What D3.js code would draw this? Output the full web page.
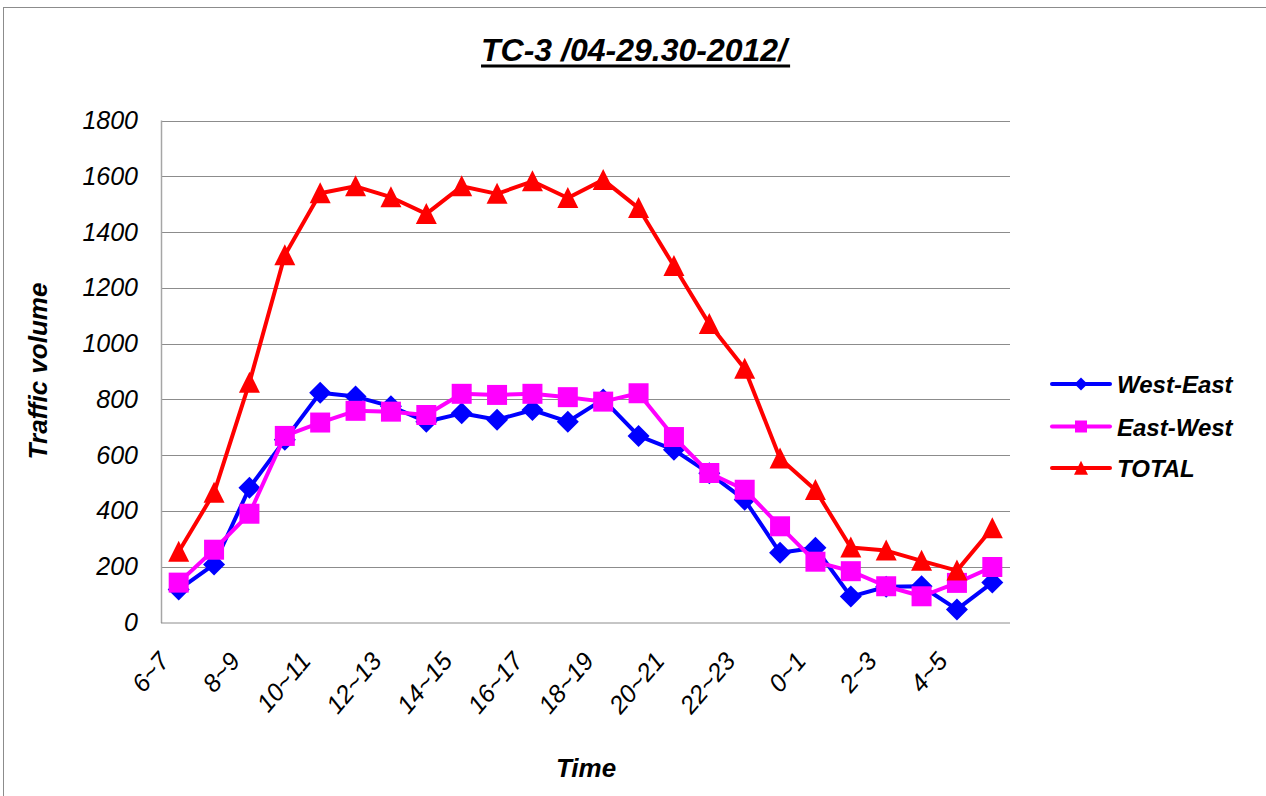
<!DOCTYPE html>
<html>
<head>
<meta charset="utf-8">
<script src="https://cdn.jsdelivr.net/npm/d3@7"></script>
<style>
  html, body { margin: 0; padding: 0; background: #fff; }
  svg { display: block; font-family: "Liberation Sans", Arial, sans-serif; }
</style>
</head>
<body>
<svg id="chart" width="1266" height="796"></svg>
<script>
const categories = ["6~7","7~8","8~9","9~10","10~11","11~12","12~13","13~14","14~15","15~16","16~17","17~18","18~19","19~20","20~21","21~22","22~23","23~0","0~1","1~2","2~3","3~4","4~5","5~6"];
const tickLabels = ["6~7","8~9","10~11","12~13","14~15","16~17","18~19","20~21","22~23","0~1","2~3","4~5"];
const westEast = [118, 208, 483, 655, 824, 810, 775, 720, 750, 727, 762, 720, 800, 669, 619, 535, 440, 250, 268, 93, 128, 130, 47, 143];
const eastWest = [143, 261, 390, 669, 717, 759, 756, 744, 820, 816, 820, 808, 792, 822, 665, 536, 476, 345, 218, 184, 130, 94, 142, 199];
const total = [254, 465, 860, 1317, 1539, 1564, 1525, 1465, 1564, 1537, 1582, 1522, 1587, 1486, 1278, 1070, 910, 588, 475, 269, 258, 221, 186, 338];
const yTicks = [0, 200, 400, 600, 800, 1000, 1200, 1400, 1600, 1800];
const seriesNames = ["West-East", "East-West", "TOTAL"];
const seriesColors = ["#0000ff", "#ff00ff", "#ff0000"];
const seriesShapes = ["diamond", "square", "triangle"];
const titleText = "TC-3 /04-29.30-2012/";
const yTitle = "Traffic volume";
const xTitle = "Time";

const svg = d3.select("#chart");
const plot = { left: 161, right: 1010, top: 120.5, bottom: 622.5 };

// chart border
svg.append("rect").attr("x", 3.5).attr("y", 7.5).attr("width", 1270).attr("height", 800)
  .attr("fill", "none").attr("stroke", "#8c8c8c").attr("stroke-width", 1);

const x = d3.scaleBand().domain(categories).range([plot.left, plot.right]).padding(0);
const cx = c => x(c) + x.bandwidth() / 2;
const y = d3.scaleLinear().domain([0, 1800]).range([plot.bottom, plot.top]);

// gridlines
svg.append("g").selectAll("line").data(yTicks.filter(t => t > 0)).join("line")
  .attr("x1", plot.left).attr("x2", plot.right)
  .attr("y1", d => Math.round(y(d)) + 0.5).attr("y2", d => Math.round(y(d)) + 0.5)
  .attr("stroke", "#8c8c8c").attr("stroke-width", 1);

// axes lines
svg.append("line").attr("x1", plot.left + 0.5).attr("x2", plot.left + 0.5)
  .attr("y1", plot.top).attr("y2", plot.bottom + 0.5).attr("stroke", "#a6a6a6").attr("stroke-width", 1.5);
svg.append("line").attr("x1", plot.left).attr("x2", plot.right)
  .attr("y1", plot.bottom + 0.5).attr("y2", plot.bottom + 0.5).attr("stroke", "#8c8c8c").attr("stroke-width", 1);

// y axis labels via d3 axis
const yAxis = d3.axisLeft(y).tickValues(yTicks).tickSize(0).tickPadding(23).tickFormat(d3.format("d"));
const yg = svg.append("g").attr("transform", `translate(${plot.left},0)`).call(yAxis);
yg.select(".domain").remove();
yg.selectAll("text").attr("font-size", 25).attr("font-style", "italic").attr("fill", "#000")
  .attr("font-family", "Liberation Sans, Arial, sans-serif");

// x axis labels
const xAxis = d3.axisBottom(x).tickValues(tickLabels).tickSize(0).tickPadding(0);
const xg = svg.append("g").attr("transform", `translate(0,${plot.bottom})`).call(xAxis);
xg.select(".domain").remove();
xg.selectAll("text")
  .attr("font-size", 25).attr("font-style", "italic").attr("fill", "#000")
  .attr("font-family", "Liberation Sans, Arial, sans-serif")
  .attr("text-anchor", "end")
  .attr("dy", 0).attr("y", 0)
  .attr("transform", "translate(-8,39) rotate(-50)");

// lines
const series = [westEast, eastWest, total];
const line = d3.line().x((d, i) => cx(categories[i])).y(d => y(d));

function shapePath(shape, s) {
  if (shape === "diamond") return `M0,${-s}L${s},0L0,${s}L${-s},0Z`;
  if (shape === "square") return `M${-s},${-s}H${s}V${s}H${-s}Z`;
  return `M0,${-s * 1.05}L${s},${s * 0.95}L${-s},${s * 0.95}Z`;
}
const markerSizes = [11, 10, 10.5];

series.forEach((vals, k) => {
  svg.append("path").datum(vals).attr("d", line)
    .attr("fill", "none").attr("stroke", seriesColors[k]).attr("stroke-width", 4)
    .attr("stroke-linejoin", "round");
  svg.append("g").selectAll("path").data(vals).join("path")
    .attr("transform", (d, i) => `translate(${cx(categories[i])},${y(d)})`)
    .attr("d", shapePath(seriesShapes[k], markerSizes[k]))
    .attr("fill", seriesColors[k]);
});

// title
const title = svg.append("text").attr("x", 634).attr("y", 61).attr("text-anchor", "middle")
  .attr("font-size", 32).attr("font-weight", "bold").attr("font-style", "italic")
  .text(titleText);
const tb = title.node().getBBox();
svg.append("rect").attr("x", tb.x).attr("y", 64.5).attr("width", tb.width).attr("height", 3).attr("fill", "#000");

// axis titles
svg.append("text").attr("transform", "translate(47,371) rotate(-90)").attr("text-anchor", "middle")
  .attr("font-size", 26).attr("font-weight", "bold").attr("font-style", "italic").text(yTitle);
svg.append("text").attr("x", 586).attr("y", 777).attr("text-anchor", "middle")
  .attr("font-size", 26).attr("font-weight", "bold").attr("font-style", "italic").text(xTitle);

// legend
const legY = [384, 426.5, 468];
const legendShapeSizes = [6.5, 6, 7];
seriesNames.forEach((name, k) => {
  const g = svg.append("g").attr("transform", `translate(0,${legY[k]})`);
  g.append("line").attr("x1", 1052).attr("x2", 1110).attr("y1", 0).attr("y2", 0)
    .attr("stroke", seriesColors[k]).attr("stroke-width", 4).attr("stroke-linecap", "round");
  g.append("path").attr("transform", "translate(1081,0)")
    .attr("d", shapePath(seriesShapes[k], legendShapeSizes[k])).attr("fill", seriesColors[k]);
  g.append("text").attr("x", 1117).attr("y", 9).attr("font-size", 24)
    .attr("font-weight", "bold").attr("font-style", "italic").text(name);
});
</script>
</body>
</html>
